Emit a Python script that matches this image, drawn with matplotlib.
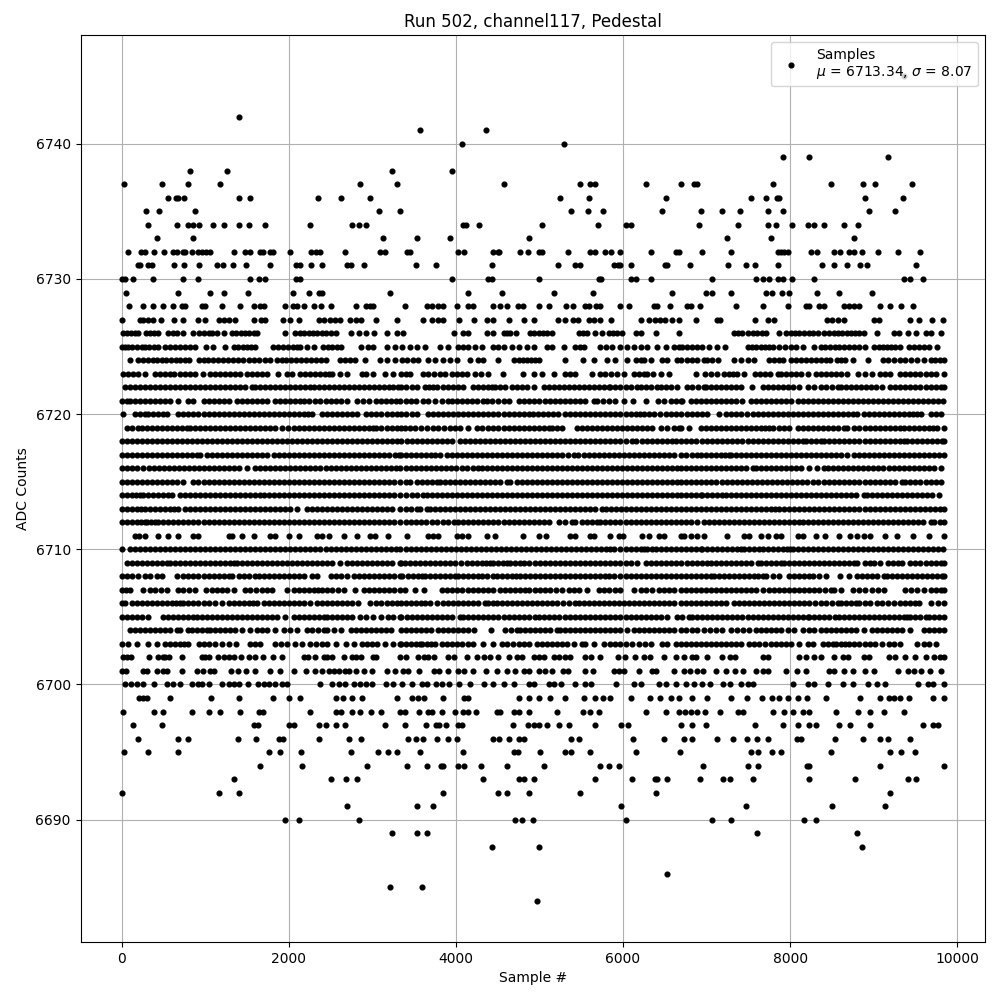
import numpy as np
import matplotlib
matplotlib.use("Agg")
import matplotlib.pyplot as plt

# Sample numbers (in tens of samples), one list per ADC level
lv_6745 = [936]
lv_6742 = [141]
lv_6741 = [357, 436]
lv_6740 = [407, 529]
lv_6739 = [792, 822, 917]
lv_6738 = [82, 126, 324, 395]
lv_6737 = [3, 48, 79, 118, 285, 330, 457, 548, 560, 567, 627, 669, 685, 688, 780, 849, 887, 902, 946]
lv_6736 = [56, 65, 68, 75, 141, 154, 235, 263, 297, 525, 559, 651, 753, 771, 784, 787, 889, 935]
lv_6735 = [29, 45, 88, 308, 333, 538, 558, 576, 647, 693, 719, 740, 774, 791, 894, 926]
lv_6734 = [32, 66, 80, 86, 93, 109, 122, 140, 152, 172, 226, 276, 284, 292, 409, 412, 428, 503, 570, 603, 609, 691, 738, 773, 783, 802, 821, 829, 840, 865, 881]
lv_6733 = [42, 85, 313, 353, 393, 487, 724, 777, 876]
lv_6732 = [8, 23, 28, 39, 51, 62, 66, 74, 76, 84, 92, 96, 101, 106, 134, 148, 154, 166, 169, 177, 181, 201, 227, 233, 238, 267, 309, 315, 342, 345, 402, 410, 445, 450, 452, 477, 486, 499, 503, 534, 561, 566, 579, 586, 597, 633, 663, 667, 695, 729, 785, 789, 793, 797, 825, 832, 853, 860, 870, 877, 886, 905, 929, 956]
lv_6731 = [20, 22, 31, 36, 63, 75, 93, 114, 121, 133, 149, 177, 209, 214, 227, 240, 270, 275, 290, 352, 376, 443, 522, 543, 548, 589, 594, 597, 609, 650, 653, 680, 726, 747, 758, 786, 838, 852, 868, 884, 892, 951]
lv_6730 = [0, 4, 14, 38, 74, 91, 154, 164, 171, 209, 214, 395, 439, 443, 499, 571, 574, 609, 615, 634, 707, 759, 768, 775, 786, 792, 802, 828, 936, 944, 959]
lv_6729 = [5, 67, 106, 122, 151, 205, 224, 236, 240, 321, 414, 455, 517, 564, 659, 699, 707, 729, 771, 778, 790, 799, 832, 859, 898]
lv_6728 = [9, 26, 37, 50, 61, 72, 76, 96, 100, 120, 142, 159, 166, 170, 196, 205, 210, 218, 230, 239, 251, 281, 292, 297, 301, 339, 366, 372, 379, 384, 401, 415, 420, 444, 453, 461, 474, 480, 500, 511, 532, 540, 554, 559, 568, 573, 597, 607, 637, 641, 656, 676, 681, 692, 735, 767, 797, 819, 823, 834, 840, 864, 870, 877, 882, 908, 920, 933, 947]
lv_6727 = [1, 22, 26, 32, 38, 47, 63, 74, 91, 100, 116, 122, 128, 136, 158, 167, 172, 193, 202, 212, 236, 242, 249, 255, 261, 273, 280, 287, 304, 330, 361, 372, 379, 385, 404, 422, 437, 444, 464, 482, 493, 522, 531, 540, 546, 559, 565, 572, 586, 621, 631, 638, 644, 650, 659, 667, 687, 713, 716, 758, 774, 781, 844, 850, 857, 864, 900, 906, 943, 954, 970, 983]
lv_6726 = [2, 6, 11, 16, 20, 29, 34, 39, 44, 56, 61, 66, 74, 86, 93, 98, 104, 108, 114, 123, 132, 137, 143, 148, 153, 158, 162, 196, 208, 213, 218, 224, 229, 234, 240, 245, 251, 256, 274, 284, 293, 302, 318, 329, 337, 398, 409, 415, 437, 445, 457, 461, 465, 472, 489, 494, 499, 504, 509, 515, 547, 552, 557, 566, 575, 583, 588, 593, 599, 616, 622, 640, 667, 733, 738, 743, 749, 755, 760, 766, 771, 787, 795, 801, 806, 811, 817, 822, 827, 833, 841, 847, 852, 857, 862, 868, 873, 878, 883, 888, 904, 924, 930, 941, 951, 962, 968, 981]
lv_6725 = [0, 4, 8, 13, 19, 24, 28, 33, 39, 44, 52, 58, 64, 70, 76, 82, 88, 101, 109, 124, 134, 139, 145, 150, 155, 160, 181, 187, 193, 199, 205, 210, 214, 222, 230, 241, 247, 252, 258, 263, 286, 295, 301, 317, 327, 335, 345, 353, 363, 381, 391, 403, 409, 415, 423, 431, 445, 451, 457, 467, 475, 485, 494, 509, 515, 529, 543, 548, 553, 573, 580, 587, 596, 605, 613, 621, 629, 641, 651, 661, 667, 671, 677, 683, 689, 695, 703, 713, 722, 749, 754, 759, 765, 770, 775, 780, 787, 794, 801, 807, 815, 829, 837, 842, 848, 854, 859, 864, 870, 876, 883, 890, 900, 906, 911, 916, 921, 926, 932, 942, 948, 954, 960, 966, 976]
lv_6724 = [10, 20, 26, 32, 37, 42, 48, 53, 59, 65, 70, 76, 81, 93, 98, 103, 109, 115, 121, 127, 133, 139, 145, 152, 159, 165, 171, 177, 186, 192, 197, 203, 209, 215, 221, 227, 233, 239, 245, 261, 267, 273, 279, 291, 309, 318, 327, 335, 342, 349, 355, 367, 375, 385, 393, 401, 417, 426, 433, 450, 469, 475, 480, 485, 490, 495, 499, 531, 552, 565, 581, 591, 605, 616, 621, 625, 633, 647, 653, 665, 669, 677, 683, 689, 697, 701, 707, 714, 733, 741, 749, 757, 775, 781, 787, 792, 801, 807, 813, 819, 825, 831, 837, 843, 848, 856, 861, 866, 875, 893, 911, 917, 924, 932, 938, 945, 952, 960, 968, 973, 979, 984]
lv_6723 = [2, 8, 14, 20, 28, 40, 46, 52, 58, 63, 70, 76, 82, 88, 97, 106, 112, 118, 124, 130, 136, 142, 150, 156, 162, 168, 174, 187, 198, 204, 214, 220, 226, 232, 238, 243, 248, 252, 261, 270, 288, 293, 301, 315, 325, 334, 340, 345, 361, 367, 374, 381, 387, 395, 401, 407, 413, 423, 430, 439, 456, 480, 494, 503, 518, 531, 537, 543, 563, 573, 579, 586, 593, 601, 613, 619, 625, 629, 636, 645, 655, 687, 698, 705, 712, 721, 727, 732, 737, 745, 758, 764, 770, 776, 785, 789, 795, 801, 807, 813, 821, 831, 837, 843, 849, 855, 861, 868, 881, 890, 898, 908, 914, 920, 932, 938, 944, 950, 956, 962, 968, 974, 984]
lv_6722 = [4, 10, 16, 22, 28, 34, 40, 46, 52, 58, 64, 70, 76, 82, 88, 94, 100, 106, 112, 118, 124, 130, 136, 142, 148, 156, 160, 166, 172, 178, 184, 190, 196, 202, 208, 214, 220, 225, 230, 236, 242, 248, 254, 260, 266, 272, 278, 284, 290, 296, 302, 308, 314, 320, 325, 331, 334, 340, 347, 353, 363, 368, 373, 378, 384, 390, 396, 402, 409, 421, 427, 433, 439, 443, 447, 453, 459, 467, 473, 479, 485, 493, 505, 511, 517, 523, 529, 535, 541, 547, 553, 559, 565, 571, 577, 583, 585, 591, 597, 603, 610, 617, 621, 627, 634, 641, 645, 651, 658, 665, 677, 683, 690, 697, 699, 705, 711, 717, 723, 729, 735, 741, 754, 767, 773, 779, 785, 791, 797, 804, 811, 821, 829, 837, 843, 850, 857, 861, 867, 873, 879, 885, 891, 897, 903, 910, 920, 926, 932, 938, 944, 950, 956, 962, 968, 974, 980, 984]
lv_6721 = [0, 6, 10, 16, 22, 28, 34, 40, 46, 52, 58, 68, 80, 86, 98, 104, 110, 116, 122, 128, 138, 144, 150, 156, 162, 168, 174, 184, 190, 196, 202, 208, 214, 218, 224, 232, 238, 244, 250, 256, 262, 270, 282, 289, 296, 304, 310, 316, 322, 328, 333, 340, 346, 352, 361, 367, 375, 383, 390, 395, 401, 407, 413, 419, 425, 433, 437, 443, 450, 457, 463, 476, 482, 488, 494, 500, 507, 513, 519, 525, 531, 537, 543, 549, 555, 565, 569, 576, 583, 591, 601, 612, 627, 642, 649, 657, 663, 669, 671, 681, 687, 693, 699, 705, 711, 717, 723, 729, 735, 743, 753, 759, 765, 771, 777, 783, 789, 795, 801, 809, 815, 821, 827, 833, 839, 845, 851, 857, 863, 869, 875, 881, 887, 893, 899, 905, 911, 917, 923, 929, 935, 941, 947, 953, 959, 965, 971, 977, 983]
lv_6720 = [2, 16, 22, 28, 32, 38, 44, 49, 54, 68, 74, 80, 86, 92, 98, 104, 110, 116, 122, 128, 134, 140, 146, 152, 158, 164, 170, 176, 182, 188, 194, 200, 206, 212, 218, 223, 228, 240, 246, 252, 258, 264, 270, 276, 282, 293, 299, 305, 311, 317, 323, 329, 334, 340, 347, 353, 367, 373, 379, 385, 391, 397, 403, 409, 415, 421, 427, 433, 439, 445, 451, 457, 463, 469, 475, 481, 487, 492, 498, 504, 510, 516, 522, 530, 537, 543, 549, 555, 561, 567, 573, 579, 585, 591, 597, 603, 609, 615, 620, 625, 631, 637, 644, 651, 657, 663, 669, 677, 682, 689, 695, 701, 715, 723, 729, 735, 741, 748, 755, 761, 767, 773, 779, 785, 791, 797, 803, 809, 815, 821, 827, 833, 839, 845, 851, 857, 863, 869, 875, 880, 888, 894, 900, 906, 912, 918, 924, 930, 936, 942, 947, 952, 957, 969, 975, 980]
lv_6719 = [6, 13, 20, 24, 30, 36, 42, 48, 54, 60, 66, 72, 78, 82, 88, 94, 100, 106, 112, 118, 124, 130, 136, 142, 148, 154, 160, 166, 172, 178, 184, 192, 199, 206, 212, 218, 224, 230, 236, 242, 248, 254, 260, 266, 272, 278, 284, 290, 296, 301, 305, 311, 317, 323, 329, 334, 339, 345, 351, 358, 365, 373, 379, 386, 393, 399, 405, 415, 425, 431, 438, 445, 451, 457, 463, 469, 475, 481, 487, 493, 499, 505, 511, 515, 521, 527, 545, 551, 557, 563, 569, 575, 581, 587, 593, 599, 605, 611, 617, 623, 629, 635, 645, 653, 661, 667, 669, 679, 693, 699, 705, 711, 717, 723, 729, 735, 741, 747, 753, 759, 765, 770, 775, 779, 787, 793, 799, 809, 815, 821, 827, 833, 839, 845, 851, 857, 865, 868, 877, 883, 889, 895, 901, 907, 913, 920, 926, 932, 936, 942, 948, 954, 960, 966, 971, 976, 984]
lv_6718 = [0, 6, 12, 18, 24, 30, 36, 42, 48, 54, 60, 66, 72, 78, 84, 90, 96, 102, 108, 114, 120, 126, 132, 138, 144, 150, 156, 162, 168, 174, 180, 186, 192, 198, 204, 210, 216, 222, 228, 234, 240, 246, 252, 258, 264, 270, 276, 282, 288, 294, 300, 306, 312, 318, 324, 330, 334, 341, 347, 353, 359, 365, 371, 377, 383, 389, 395, 405, 411, 417, 423, 429, 435, 441, 447, 453, 459, 465, 471, 477, 483, 489, 495, 501, 507, 513, 519, 525, 531, 537, 543, 549, 555, 561, 567, 573, 579, 585, 591, 597, 603, 611, 615, 623, 629, 635, 641, 647, 653, 659, 664, 669, 675, 681, 687, 694, 701, 707, 713, 719, 725, 731, 737, 743, 749, 755, 761, 767, 773, 779, 785, 791, 797, 803, 809, 815, 819, 825, 831, 837, 841, 847, 853, 859, 865, 871, 877, 883, 889, 895, 901, 907, 913, 919, 925, 931, 936, 940, 946, 952, 958, 964, 970, 976, 982, 984]
lv_6717 = [0, 6, 12, 18, 24, 30, 36, 42, 48, 54, 60, 66, 72, 78, 84, 90, 94, 102, 108, 114, 120, 126, 132, 138, 144, 150, 156, 162, 168, 174, 182, 188, 194, 200, 206, 212, 218, 224, 230, 236, 242, 248, 254, 260, 266, 272, 278, 284, 290, 296, 302, 308, 314, 320, 327, 332, 334, 340, 346, 352, 358, 364, 370, 375, 381, 389, 395, 401, 407, 413, 419, 425, 431, 437, 443, 449, 455, 461, 467, 473, 479, 485, 491, 497, 503, 509, 515, 521, 527, 534, 541, 546, 553, 559, 565, 571, 577, 583, 589, 595, 601, 607, 613, 619, 625, 631, 637, 643, 649, 655, 661, 669, 675, 682, 689, 693, 699, 705, 711, 717, 722, 727, 729, 735, 741, 747, 753, 759, 765, 771, 777, 783, 789, 795, 801, 807, 813, 819, 825, 831, 837, 843, 849, 855, 861, 868, 876, 882, 888, 894, 900, 906, 912, 918, 924, 930, 936, 942, 948, 954, 960, 966, 972, 978, 984]
lv_6716 = [0, 6, 12, 19, 26, 33, 39, 45, 51, 57, 63, 69, 75, 81, 87, 93, 99, 105, 111, 117, 123, 129, 135, 141, 150, 160, 166, 172, 178, 184, 190, 196, 202, 208, 214, 220, 226, 232, 238, 244, 250, 256, 262, 268, 274, 280, 286, 292, 298, 304, 310, 316, 322, 328, 333, 340, 346, 352, 358, 364, 370, 376, 382, 388, 394, 400, 407, 413, 420, 427, 431, 437, 443, 449, 455, 461, 467, 473, 479, 485, 491, 497, 503, 509, 515, 521, 527, 533, 539, 545, 551, 557, 563, 569, 575, 581, 587, 593, 599, 605, 611, 617, 623, 629, 635, 641, 647, 653, 659, 665, 669, 675, 681, 687, 693, 699, 705, 711, 717, 723, 729, 735, 741, 747, 755, 759, 765, 771, 777, 783, 789, 795, 801, 807, 813, 823, 832, 841, 845, 851, 857, 863, 869, 875, 881, 887, 893, 899, 905, 911, 918, 924, 930, 936, 942, 948, 954, 960, 966, 972, 980]
lv_6715 = [0, 6, 12, 18, 24, 30, 36, 42, 48, 54, 60, 66, 74, 86, 92, 98, 104, 110, 116, 122, 128, 134, 140, 146, 152, 158, 164, 170, 176, 182, 188, 194, 200, 206, 212, 218, 224, 230, 236, 242, 248, 254, 260, 266, 272, 278, 284, 290, 296, 302, 308, 314, 320, 326, 333, 340, 345, 353, 359, 365, 371, 377, 381, 387, 393, 399, 405, 411, 417, 423, 429, 435, 441, 447, 453, 461, 465, 473, 479, 485, 491, 497, 503, 509, 515, 521, 527, 533, 539, 545, 551, 557, 563, 569, 575, 581, 587, 593, 599, 605, 611, 617, 623, 629, 635, 641, 647, 653, 659, 665, 669, 675, 681, 687, 693, 699, 705, 711, 718, 725, 730, 736, 742, 748, 754, 760, 766, 772, 778, 784, 790, 796, 802, 808, 814, 820, 827, 833, 841, 847, 853, 859, 865, 871, 877, 883, 889, 895, 901, 907, 913, 919, 925, 934, 938, 944, 950, 956, 962, 968, 974, 980]
lv_6714 = [0, 6, 12, 17, 22, 26, 32, 38, 44, 50, 55, 60, 70, 76, 82, 88, 94, 100, 106, 112, 118, 124, 130, 136, 142, 148, 154, 160, 166, 170, 176, 182, 188, 194, 200, 206, 212, 218, 224, 230, 236, 242, 248, 254, 260, 266, 272, 278, 284, 290, 296, 302, 308, 314, 320, 326, 333, 340, 347, 353, 361, 365, 371, 377, 383, 389, 395, 401, 407, 413, 419, 425, 431, 437, 443, 449, 455, 461, 467, 473, 479, 485, 491, 497, 503, 509, 515, 521, 527, 533, 539, 545, 551, 557, 563, 569, 575, 581, 587, 593, 599, 605, 611, 617, 623, 629, 635, 641, 647, 653, 659, 665, 669, 675, 681, 687, 693, 695, 701, 707, 713, 719, 723, 729, 735, 741, 747, 753, 759, 765, 771, 777, 783, 789, 795, 801, 807, 813, 819, 825, 831, 837, 843, 849, 855, 861, 867, 873, 879, 888, 892, 898, 904, 910, 916, 922, 928, 934, 940, 946, 952, 958, 964, 970, 978]
lv_6713 = [0, 6, 12, 18, 23, 28, 34, 40, 46, 52, 58, 63, 68, 76, 82, 88, 94, 100, 106, 112, 118, 124, 130, 136, 142, 148, 154, 160, 166, 172, 178, 184, 190, 196, 202, 210, 222, 228, 234, 240, 246, 252, 258, 264, 270, 276, 282, 288, 294, 300, 306, 312, 318, 324, 333, 340, 346, 353, 357, 365, 369, 375, 381, 387, 393, 399, 405, 411, 417, 423, 429, 435, 441, 447, 453, 459, 465, 471, 477, 483, 489, 495, 501, 507, 513, 519, 525, 531, 537, 543, 549, 555, 561, 567, 575, 580, 586, 592, 598, 604, 610, 616, 622, 628, 634, 640, 646, 652, 658, 664, 669, 675, 681, 687, 693, 699, 705, 711, 717, 723, 729, 735, 741, 747, 753, 759, 765, 771, 777, 782, 787, 793, 799, 805, 811, 817, 823, 829, 835, 841, 847, 853, 859, 865, 871, 877, 883, 889, 895, 901, 907, 913, 919, 925, 931, 937, 943, 949, 955, 961, 967, 973, 979, 984]
lv_6712 = [0, 6, 12, 18, 23, 28, 30, 35, 40, 44, 50, 56, 62, 68, 74, 80, 86, 92, 98, 104, 110, 116, 122, 128, 134, 140, 146, 152, 158, 164, 170, 176, 182, 188, 194, 200, 206, 212, 218, 224, 230, 236, 242, 248, 254, 260, 266, 272, 278, 284, 290, 296, 302, 308, 314, 320, 326, 333, 340, 346, 352, 358, 364, 371, 377, 384, 391, 398, 403, 409, 415, 421, 427, 433, 439, 445, 451, 457, 463, 469, 475, 481, 487, 493, 499, 505, 511, 523, 531, 539, 543, 551, 557, 563, 569, 573, 579, 585, 591, 597, 603, 609, 615, 621, 627, 633, 639, 645, 651, 657, 663, 669, 675, 681, 689, 697, 703, 709, 715, 721, 727, 733, 739, 745, 751, 757, 763, 769, 775, 781, 787, 793, 799, 805, 811, 815, 821, 827, 833, 839, 845, 851, 857, 863, 869, 875, 881, 887, 893, 899, 905, 911, 917, 923, 929, 935, 941, 947, 953, 959, 968, 972, 979, 984]
lv_6711 = [16, 21, 28, 44, 56, 68, 86, 92, 128, 132, 144, 159, 177, 183, 200, 212, 234, 240, 248, 266, 282, 297, 303, 319, 342, 367, 373, 379, 401, 407, 415, 437, 447, 480, 499, 508, 537, 543, 560, 565, 584, 595, 600, 623, 631, 643, 649, 669, 673, 681, 689, 697, 724, 745, 751, 765, 773, 783, 789, 809, 815, 831, 842, 858, 872, 880, 888, 896, 914, 928, 947, 966, 984]
lv_6710 = [0, 10, 16, 22, 28, 34, 40, 46, 52, 58, 64, 70, 76, 82, 88, 94, 100, 106, 112, 118, 124, 130, 136, 142, 148, 154, 160, 166, 172, 178, 184, 190, 196, 202, 208, 214, 220, 226, 232, 238, 244, 250, 256, 262, 268, 274, 280, 286, 292, 298, 304, 310, 316, 322, 328, 333, 340, 346, 352, 358, 364, 370, 376, 382, 388, 394, 400, 406, 412, 418, 424, 430, 436, 442, 448, 454, 460, 466, 472, 478, 484, 490, 496, 502, 508, 514, 520, 526, 532, 538, 544, 550, 556, 562, 568, 574, 580, 585, 589, 597, 603, 609, 615, 621, 625, 629, 635, 639, 645, 651, 657, 663, 669, 675, 681, 687, 693, 695, 701, 707, 713, 719, 725, 731, 736, 741, 745, 751, 757, 763, 768, 773, 779, 785, 791, 796, 800, 803, 809, 815, 821, 827, 833, 839, 845, 851, 857, 863, 869, 875, 881, 887, 893, 899, 905, 911, 917, 923, 929, 935, 941, 947, 953, 959, 965, 971, 977, 983]
lv_6709 = [6, 12, 18, 24, 30, 36, 42, 48, 54, 58, 64, 70, 76, 82, 88, 94, 100, 106, 112, 118, 124, 130, 134, 138, 144, 150, 156, 162, 168, 174, 180, 186, 192, 198, 204, 210, 216, 222, 228, 234, 240, 246, 252, 261, 270, 276, 282, 288, 294, 300, 306, 312, 318, 324, 333, 334, 339, 345, 351, 357, 363, 369, 375, 381, 387, 393, 399, 406, 413, 419, 425, 431, 436, 441, 445, 451, 456, 461, 465, 471, 477, 482, 487, 495, 501, 507, 513, 519, 525, 531, 537, 543, 549, 555, 561, 567, 573, 579, 585, 591, 597, 603, 609, 617, 627, 633, 639, 645, 651, 657, 663, 669, 677, 683, 689, 695, 701, 705, 711, 717, 723, 729, 735, 741, 747, 753, 761, 765, 771, 777, 783, 789, 793, 799, 805, 811, 817, 823, 829, 835, 841, 847, 853, 859, 865, 871, 876, 880, 890, 896, 900, 908, 917, 923, 929, 934, 944, 950, 956, 962, 968, 974, 980, 984]
lv_6708 = [0, 6, 12, 20, 28, 34, 42, 48, 66, 74, 80, 86, 92, 98, 104, 110, 116, 122, 128, 132, 140, 146, 152, 160, 164, 170, 176, 182, 188, 194, 200, 206, 212, 218, 228, 234, 250, 256, 263, 270, 278, 284, 290, 296, 302, 308, 314, 320, 326, 333, 335, 343, 349, 355, 359, 363, 369, 375, 381, 387, 393, 399, 403, 409, 415, 421, 426, 431, 437, 445, 449, 455, 461, 467, 472, 477, 483, 489, 495, 501, 507, 513, 519, 525, 531, 537, 543, 549, 555, 561, 567, 573, 578, 583, 589, 597, 603, 609, 615, 621, 627, 633, 639, 645, 651, 657, 663, 669, 675, 681, 687, 693, 699, 705, 709, 715, 721, 727, 733, 739, 745, 751, 757, 762, 767, 771, 779, 787, 799, 805, 811, 817, 823, 827, 835, 843, 860, 870, 880, 886, 892, 898, 904, 912, 916, 922, 928, 934, 940, 946, 952, 958, 964, 970, 976, 982, 984]
lv_6707 = [0, 5, 10, 26, 34, 40, 47, 54, 68, 74, 81, 88, 101, 108, 114, 120, 126, 134, 148, 154, 161, 168, 174, 180, 198, 206, 212, 218, 224, 230, 235, 240, 246, 252, 259, 266, 279, 290, 296, 302, 308, 314, 320, 326, 333, 339, 351, 362, 383, 389, 395, 401, 407, 415, 421, 427, 433, 439, 445, 453, 459, 465, 471, 477, 483, 487, 495, 501, 507, 513, 520, 527, 535, 541, 547, 557, 571, 577, 583, 590, 597, 613, 621, 628, 635, 643, 649, 655, 661, 669, 675, 681, 687, 693, 699, 705, 711, 717, 723, 729, 735, 741, 747, 753, 759, 767, 775, 781, 787, 793, 799, 805, 811, 817, 823, 829, 835, 842, 849, 853, 861, 875, 883, 890, 898, 905, 912, 938, 945, 952, 960, 968, 974, 980, 984]
lv_6706 = [0, 4, 12, 18, 24, 30, 36, 42, 48, 54, 60, 65, 70, 74, 80, 86, 92, 98, 104, 112, 120, 128, 134, 140, 146, 152, 157, 162, 170, 176, 182, 188, 194, 200, 206, 212, 218, 226, 234, 240, 246, 252, 258, 264, 270, 276, 283, 297, 305, 311, 317, 323, 329, 334, 340, 346, 352, 358, 363, 369, 377, 385, 391, 397, 403, 409, 415, 421, 427, 435, 439, 445, 449, 455, 461, 467, 473, 479, 485, 491, 497, 503, 509, 515, 521, 528, 535, 543, 547, 553, 559, 565, 571, 577, 583, 589, 595, 601, 607, 613, 619, 625, 631, 637, 643, 649, 655, 661, 669, 675, 681, 687, 693, 699, 705, 711, 717, 723, 733, 739, 745, 751, 757, 763, 769, 775, 781, 787, 793, 799, 805, 811, 817, 823, 830, 837, 843, 850, 857, 861, 867, 873, 879, 883, 889, 895, 904, 910, 917, 924, 931, 938, 944, 949, 954, 968, 977, 984]
lv_6705 = [0, 6, 12, 18, 24, 32, 50, 56, 62, 68, 74, 80, 86, 90, 96, 102, 108, 114, 120, 126, 132, 138, 144, 150, 156, 162, 168, 174, 180, 186, 196, 206, 212, 218, 224, 230, 236, 242, 246, 252, 258, 264, 270, 276, 285, 293, 301, 311, 319, 325, 333, 334, 341, 347, 353, 359, 365, 371, 377, 383, 389, 395, 405, 409, 415, 421, 427, 433, 439, 445, 451, 457, 463, 469, 475, 481, 487, 495, 499, 505, 511, 517, 523, 531, 537, 543, 549, 555, 561, 567, 573, 579, 585, 591, 597, 603, 609, 615, 621, 627, 633, 639, 645, 653, 665, 671, 679, 683, 689, 695, 701, 707, 713, 719, 725, 731, 737, 743, 749, 755, 761, 767, 773, 779, 785, 791, 797, 803, 809, 815, 821, 823, 829, 835, 841, 847, 854, 858, 864, 870, 876, 882, 888, 894, 900, 906, 912, 918, 924, 930, 936, 940, 944, 950, 956, 962, 966, 972, 978, 984]
lv_6704 = [10, 16, 22, 28, 34, 40, 46, 52, 58, 66, 70, 80, 84, 90, 96, 102, 106, 112, 118, 124, 130, 136, 144, 154, 162, 168, 174, 184, 194, 202, 210, 222, 228, 235, 242, 246, 254, 262, 274, 280, 286, 292, 298, 304, 310, 316, 322, 334, 340, 346, 352, 358, 364, 370, 379, 385, 391, 397, 403, 409, 415, 422, 442, 459, 466, 473, 477, 483, 489, 495, 501, 507, 513, 521, 525, 531, 537, 543, 549, 555, 561, 567, 573, 579, 585, 591, 597, 605, 613, 619, 625, 631, 637, 643, 649, 655, 661, 669, 675, 682, 689, 697, 704, 711, 718, 729, 737, 744, 751, 759, 765, 771, 777, 783, 789, 797, 805, 815, 822, 829, 837, 843, 849, 855, 861, 867, 873, 879, 888, 898, 904, 910, 916, 922, 928, 934, 944, 960, 966, 972, 978, 984]
lv_6703 = [0, 8, 18, 32, 42, 52, 58, 64, 70, 75, 80, 93, 99, 105, 112, 120, 128, 137, 154, 160, 166, 184, 191, 198, 208, 216, 226, 233, 240, 246, 256, 268, 278, 288, 294, 300, 306, 315, 325, 333, 334, 340, 346, 352, 357, 359, 365, 370, 375, 383, 389, 395, 401, 407, 414, 421, 432, 445, 455, 461, 468, 475, 481, 487, 497, 503, 509, 515, 521, 527, 533, 541, 551, 555, 565, 577, 585, 591, 597, 603, 611, 619, 626, 633, 647, 653, 663, 669, 675, 681, 687, 693, 699, 705, 711, 717, 723, 729, 735, 741, 751, 757, 763, 770, 777, 783, 789, 795, 801, 811, 821, 827, 839, 845, 851, 855, 861, 866, 871, 876, 882, 889, 896, 902, 910, 918, 924, 932, 952, 960, 966, 975]
lv_6702 = [2, 6, 11, 33, 43, 49, 52, 57, 72, 96, 100, 105, 115, 123, 129, 135, 143, 152, 160, 169, 181, 192, 218, 223, 231, 242, 246, 252, 266, 276, 281, 286, 301, 305, 333, 340, 355, 362, 367, 374, 391, 398, 413, 425, 434, 441, 451, 463, 473, 479, 494, 500, 506, 517, 524, 530, 536, 554, 562, 572, 594, 602, 614, 625, 632, 649, 663, 673, 682, 687, 700, 718, 728, 734, 767, 774, 811, 819, 828, 837, 853, 863, 869, 888, 894, 918, 925, 937, 949, 963, 972, 979, 984]
lv_6701 = [0, 5, 26, 30, 42, 50, 54, 72, 90, 97, 106, 111, 131, 139, 149, 160, 177, 189, 206, 221, 231, 240, 248, 254, 260, 267, 272, 281, 290, 300, 318, 327, 337, 343, 356, 374, 380, 391, 403, 410, 421, 436, 449, 461, 471, 481, 487, 500, 507, 515, 528, 534, 554, 564, 589, 595, 601, 619, 635, 640, 661, 673, 680, 689, 696, 711, 723, 734, 744, 759, 768, 773, 795, 808, 819, 846, 852, 865, 875, 890, 900, 929, 941, 948, 957, 967, 981]
lv_6700 = [4, 11, 18, 25, 39, 54, 62, 70, 84, 91, 96, 104, 120, 128, 135, 141, 151, 163, 170, 176, 184, 192, 198, 238, 252, 260, 267, 278, 285, 293, 300, 316, 325, 335, 348, 360, 365, 376, 383, 392, 404, 417, 434, 444, 457, 469, 487, 493, 511, 518, 526, 542, 554, 562, 592, 613, 621, 643, 651, 663, 675, 685, 694, 704, 720, 728, 741, 749, 755, 804, 821, 828, 845, 863, 875, 893, 904, 914, 953, 965, 971, 984]
lv_6699 = [21, 26, 30, 58, 107, 140, 181, 200, 214, 256, 265, 276, 288, 330, 348, 355, 362, 384, 410, 415, 476, 487, 500, 513, 531, 553, 567, 576, 585, 610, 632, 644, 658, 667, 682, 701, 729, 748, 766, 778, 787, 798, 809, 820, 843, 884, 907, 918, 924, 931, 942, 971, 984]
lv_6698 = [2, 39, 49, 84, 105, 118, 142, 164, 169, 225, 257, 263, 276, 285, 298, 311, 333, 339, 356, 367, 372, 383, 399, 409, 415, 424, 449, 453, 469, 476, 487, 521, 552, 560, 571, 627, 651, 667, 674, 681, 688, 698, 716, 738, 744, 779, 793, 803, 815, 823, 855, 881, 896, 912, 936]
lv_6697 = [14, 48, 159, 163, 200, 206, 236, 244, 256, 267, 315, 339, 364, 376, 380, 388, 402, 407, 468, 486, 494, 500, 509, 524, 535, 567, 598, 606, 669, 682, 699, 758, 791, 810, 823, 831, 858, 872, 896, 959, 971, 977]
lv_6696 = [20, 68, 79, 139, 161, 188, 193, 236, 272, 286, 343, 352, 361, 378, 391, 401, 444, 452, 464, 475, 481, 538, 547, 612, 649, 673, 683, 713, 732, 748, 760, 773, 808, 813, 854, 887, 908, 917, 943]
lv_6695 = [3, 32, 67, 176, 190, 215, 274, 307, 319, 330, 357, 409, 469, 474, 501, 531, 538, 560, 615, 668, 753, 762, 778, 789, 849, 919, 933, 949]
lv_6694 = [166, 216, 294, 342, 366, 382, 385, 403, 410, 430, 461, 505, 572, 583, 595, 696, 750, 762, 820, 823, 908, 984]
lv_6693 = [134, 251, 268, 282, 433, 476, 481, 493, 567, 611, 638, 641, 653, 692, 720, 728, 756, 822, 878, 941, 951]
lv_6692 = [0, 116, 141, 384, 450, 461, 487, 548, 639, 920]
lv_6691 = [270, 353, 373, 598, 747, 850, 913]
lv_6690 = [195, 212, 284, 471, 479, 492, 603, 706, 729, 817, 831]
lv_6689 = [323, 354, 365, 760, 880]
lv_6688 = [443, 500, 886]
lv_6686 = [653]
lv_6685 = [321, 359]
lv_6684 = [497]

levels = {
    6745: lv_6745, 6742: lv_6742, 6741: lv_6741, 6740: lv_6740, 6739: lv_6739, 6738: lv_6738,
    6737: lv_6737, 6736: lv_6736, 6735: lv_6735, 6734: lv_6734, 6733: lv_6733, 6732: lv_6732,
    6731: lv_6731, 6730: lv_6730, 6729: lv_6729, 6728: lv_6728, 6727: lv_6727, 6726: lv_6726,
    6725: lv_6725, 6724: lv_6724, 6723: lv_6723, 6722: lv_6722, 6721: lv_6721, 6720: lv_6720,
    6719: lv_6719, 6718: lv_6718, 6717: lv_6717, 6716: lv_6716, 6715: lv_6715, 6714: lv_6714,
    6713: lv_6713, 6712: lv_6712, 6711: lv_6711, 6710: lv_6710, 6709: lv_6709, 6708: lv_6708,
    6707: lv_6707, 6706: lv_6706, 6705: lv_6705, 6704: lv_6704, 6703: lv_6703, 6702: lv_6702,
    6701: lv_6701, 6700: lv_6700, 6699: lv_6699, 6698: lv_6698, 6697: lv_6697, 6696: lv_6696,
    6695: lv_6695, 6694: lv_6694, 6693: lv_6693, 6692: lv_6692, 6691: lv_6691, 6690: lv_6690,
    6689: lv_6689, 6688: lv_6688, 6686: lv_6686, 6685: lv_6685, 6684: lv_6684,
}
title = "Run 502, channel117, Pedestal"
mu = 6713.34
sigma = 8.07

xs = np.concatenate([np.asarray(v, dtype=float) * 10 for v in levels.values()])
ys = np.concatenate([np.full(len(v), k, dtype=float) for k, v in levels.items()])

fig, ax = plt.subplots(figsize=(10, 10), dpi=100)
ax.plot(xs, ys, "k.", markersize=6.8, label=f"Samples\n$\\mu$ = {mu:.2f}, $\\sigma$ = {sigma:.2f}")
ax.set_title(title)
ax.set_xlabel("Sample #")
ax.set_ylabel("ADC Counts")
ax.grid(True)
ax.legend(loc="upper right")
fig.subplots_adjust(left=0.0805, right=0.985, top=0.965, bottom=0.058)
fig.savefig("out.png", dpi=100)
